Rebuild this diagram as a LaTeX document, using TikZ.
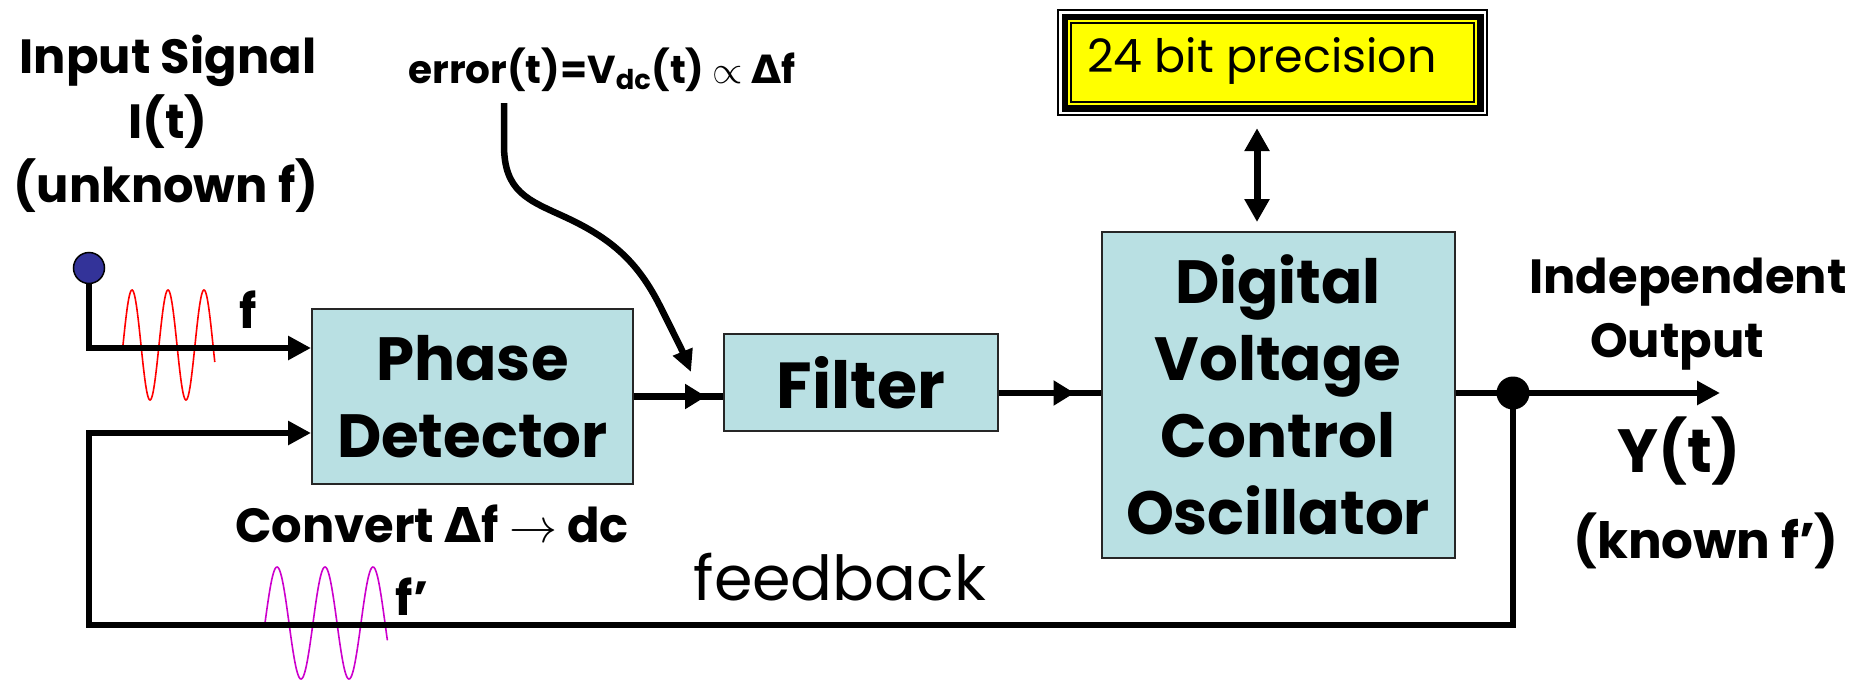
\RequirePackage{fix-cm}
\documentclass[tikz,border=0pt]{standalone}
\usepackage{fontspec}
\setmainfont{Poppins}
\newfontfamily\dejavu{DejaVu Sans}
\usetikzlibrary{arrows.meta,calc}
\definecolor{boxfill}{RGB}{185,224,227}
\definecolor{dotblue}{RGB}{51,51,153}
\definecolor{wavered}{RGB}{255,0,0}
\definecolor{wavemag}{RGB}{204,0,204}
\definecolor{precyellow}{RGB}{255,255,0}
\tikzset{
  blk/.style={draw=black!85, line width=2pt, fill=boxfill, align=center, inner sep=0pt,
    font=\bfseries\fontsize{61}{77}\selectfont},
  wire/.style={line width=6.5pt},
  tip/.style={-{Triangle[length=23pt,width=23pt]}},
  smalltip/.style={-{Triangle[length=21pt,width=24pt]}},
  lab/.style={font=\bfseries\fontsize{48}{58}\selectfont, anchor=base, inner sep=0pt},
  wave/.style={line width=1.6pt},
}
\begin{document}
\begin{tikzpicture}[x=1pt,y=-1pt]
\useasboundingbox (0,0) rectangle (1856,680);
% blocks
\node[blk, minimum width=321pt, minimum height=175pt] (pd) at (472.5,396.5) {Phase\\Detector};
\node[blk, minimum width=274pt, minimum height=97pt, font=\bfseries\fontsize{65}{77}\selectfont] (flt) at (861,382.5) {Filter};
\node[blk, minimum width=353pt, minimum height=326pt] (vco) at (1278,395) {Digital\\Voltage\\Control\\Oscillator};
% precision frame
\node[fill=black, minimum width=431pt, minimum height=107pt, inner sep=0pt] (prec) at (1272.5,62.5) {};
\fill[white] (1059,11) rectangle (1486,114);
\fill[black] (1061.5,13.5) rectangle (1483.5,111.5);
\fill[precyellow] (1068,20) rectangle (1477,105);
\fill[black] (1070,22) rectangle (1475,103);
\fill[precyellow] (1072,24) rectangle (1473,101);
\node[anchor=base west, font=\fontsize{46}{56}\selectfont, inner sep=0pt] (prect) at (1087,72) {24 bit precision};
\draw[line width=7pt, {Triangle[length=23pt,width=24pt]}-{Triangle[length=23pt,width=24pt]}]
  ([xshift=-15.5pt,yshift=-12pt]prec.south) -- ([xshift=-21pt,yshift=9pt]vco.north);
% waves
\draw[wavered, wave] plot[domain=0:918, samples=160] ({123+\x/360*36}, {345-55*sin(\x)});
\draw[wavemag, wave] plot[domain=0:918, samples=160] ({265+\x/360*48}, {623-56*sin(\x)});
% input
\node[circle, draw=black, line width=1.5pt, fill=dotblue, minimum size=31pt, inner sep=0pt] (src) at (89,268) {};
\draw[wire, tip] (src.south) |- ([yshift=48.5pt]pd.west);
% junction & output
\node[circle, fill=black, minimum size=33pt, inner sep=0pt] (jn) at (1513,393) {};
\coordinate (out) at (1720,393);
\coordinate (fbR) at (1513,625);
\coordinate (fbL) at (89,625);
\draw[wire] (vco.east |- jn) -- (jn.center);
\draw[wire, tip] (jn.center) -- (out);
\draw[wire, tip] (jn.center) -- (fbR) -- (fbL) |- ([yshift=-36.5pt]pd.west);
% chain
\draw[wire] (pd.east) -- (flt.west |- pd.east);
\draw[wire, smalltip] (pd.east) -- ([xshift=-17pt]flt.west |- pd.east);
\draw[wire] (flt.east |- jn) -- (vco.west |- jn);
\draw[wire, smalltip] (flt.east |- jn) -- ([xshift=-26pt]vco.west |- jn);
% error arrow
\coordinate (errS) at (504,103);
\coordinate (errE) at (691,372);
\draw[wire, -{Triangle[length=22pt,width=20pt]}] (errS) -- (504,145)
  .. controls (504,192) and (528,200) .. (565,217)
  .. controls (615,240) and (640,265) .. (662,310)
  .. controls (672,330) and (682,350) .. (errE);
% labels
\node[lab] (in1) at (168,73) {Input Signal};
\node[lab] (in2) at (168,138) {I(t)};
\node[lab] (in3) at (166,202) {(unknown f)};
\node[lab, font=\bfseries\fontsize{39}{46}\selectfont] (err) at (602,83) {error(t)=V\textsubscript{dc}(t) $\propto$ {\dejavu Δ}f};
\node[lab] (fin) at (248,328) {f};
\node[lab] (fout) at (412,615) {f’};
\node[lab] (conv) at (432,542) {Convert {\dejavu Δ}f $\rightarrow$ dc};
\node[lab, font=\fontsize{62}{70}\selectfont] (fb) at (840,600) {feedback};
\node[lab] (ind) at (1688,293) {Independent};
\node[lab] (outp) at (1677,357) {Output};
\node[lab, font=\bfseries\fontsize{61}{70}\selectfont] (yt) at (1679,472) {Y(t)};
\node[lab, font=\bfseries\fontsize{50}{58}\selectfont] (kn) at (1706,558) {(known f’)};
\end{tikzpicture}
\end{document}
